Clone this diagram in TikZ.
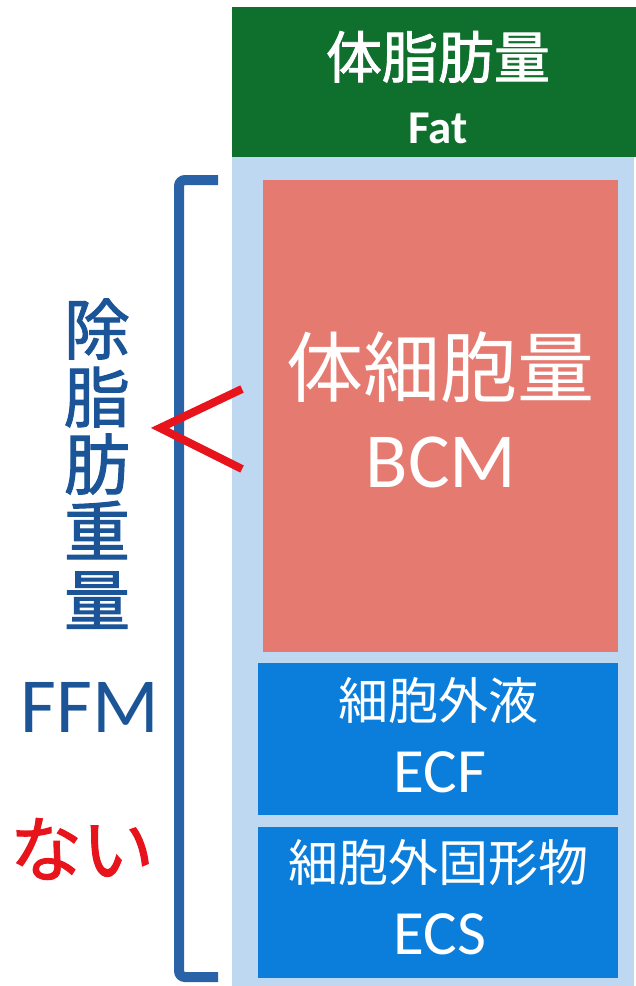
\documentclass[tikz,border=0pt]{standalone}
\usepackage{fontspec}
\setmainfont{Carlito}
\newfontfamily\jpfont{Noto Sans CJK JP}
\newfontfamily\jpmed[FakeBold=1.6]{Noto Sans CJK JP}
\definecolor{fatgreen}{HTML}{0F6F2C}
\definecolor{bgblue}{HTML}{BDD8F0}
\definecolor{bcmpink}{HTML}{E57A70}
\definecolor{boxblue}{HTML}{0B7DDB}
\definecolor{ffmblue}{HTML}{1B5598}
\definecolor{brblue}{HTML}{2A62A8}
\definecolor{redmark}{HTML}{E8141B}
\tikzset{
  lbl/.style={inner sep=0pt, anchor=base},
  wlbl/.style={lbl, text=white},
}
\begin{document}
\begin{tikzpicture}[x=1pt,y=-1pt]
\useasboundingbox (0,0) rectangle (636,986);
\fill[white] (0,0) rectangle (636,986);
% boxes
\fill[bgblue] (232,157) rectangle (634,986);
\fill[fatgreen] (232,7) rectangle (636,157);
\fill[bcmpink] (263,180) rectangle (618,652);
\fill[boxblue] (258,663) rectangle (618,815);
\fill[boxblue] (258,827) rectangle (618,978);
% texts in boxes
\node[wlbl, font=\jpmed\fontsize{56}{60}\selectfont] (fatjp) at (438,78) {体脂肪量};
\node[wlbl, font=\bfseries\fontsize{47}{50}\selectfont] (faten) at (438,143) {Fat};
\node[wlbl, font=\jpfont\fontsize{77}{80}\selectfont] (bcmjp) at (440,396) {体細胞量};
\node[wlbl, font=\fontsize{78}{80}\selectfont] (bcmen) at (441,487) {BCM};
\node[wlbl, font=\jpfont\fontsize{50}{54}\selectfont] (ecfjp) at (438,719) {細胞外液};
\node[wlbl, font=\fontsize{63}{66}\selectfont] (ecfen) at (440,792) {ECF};
\node[wlbl, font=\jpfont\fontsize{50}{54}\selectfont] (ecsjp) at (438,881) {細胞外固形物};
\node[wlbl, font=\fontsize{63}{66}\selectfont] (ecsen) at (440,954) {ECS};
% bracket
\coordinate (btop) at (218,180);
\coordinate (bbot) at (218,977);
\draw[brblue, line width=10pt, rounded corners=6pt] (btop) -- (179,180) -- (179,977) -- (bbot);
% red chevron
\coordinate (cha) at (242,389);
\coordinate (chtip) at (160,428);
\coordinate (chb) at (242,469);
\draw[redmark, line width=8pt, line join=miter] (cha) -- (chtip) -- (chb);
% vertical label
\begin{scope}[every node/.style={lbl, text=ffmblue, font=\jpmed\fontsize{66}{66}\selectfont}]
\node (v1) at (97,354) {除};
\node (v2) at (97,422) {脂};
\node (v3) at (97,489) {肪};
\node (v4) at (97,556) {重};
\node (v5) at (97,625) {量};
\end{scope}
\node[lbl, text=ffmblue, font=\fontsize{78}{80}\selectfont] (ffm) at (90,732) {FFM};
\node[lbl, text=redmark, font=\jpmed\fontsize{72}{76}\selectfont] (nai) at (82,876) {ない};
\end{tikzpicture}
\end{document}
